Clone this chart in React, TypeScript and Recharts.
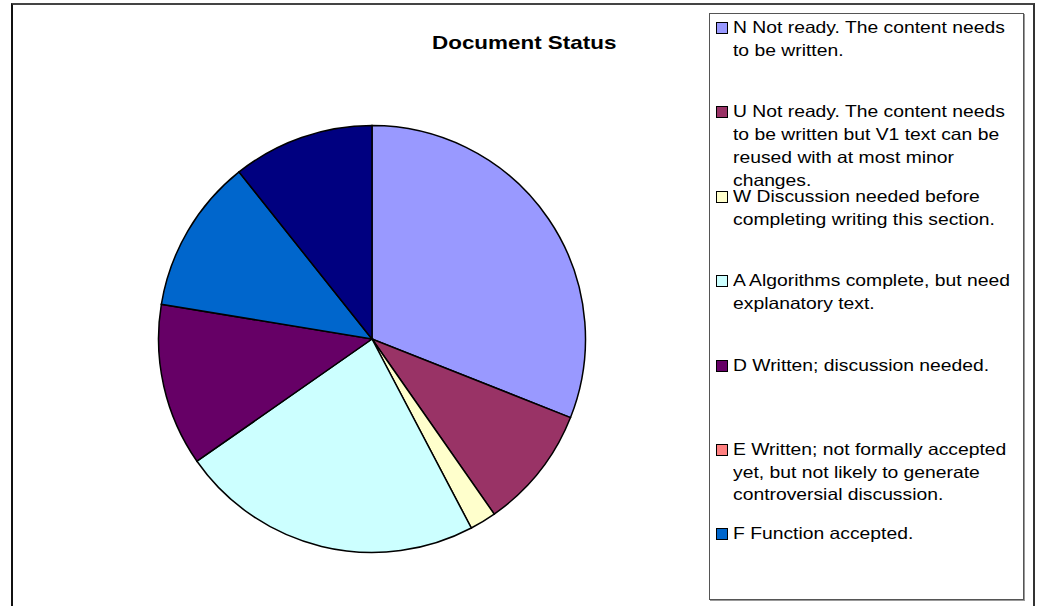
import { PieChart, Pie, Cell } from 'recharts'

const codes = ['N', 'U', 'W', 'A', 'D', 'E', 'F', 'G']
const labels = [
  'N Not ready. The content needs to be written.',
  'U Not ready. The content needs to be written but V1 text can be reused with at most minor changes.',
  'W Discussion needed before completing writing this section.',
  'A Algorithms complete, but need explanatory text.',
  'D Written; discussion needed.',
  'E Written; not formally accepted yet, but not likely to generate controversial discussion.',
  'F Function accepted.',
  '',
]
const shares = [31, 9.3, 2, 23, 12.3, 0, 11.7, 10.7]
const colors = ['#9999FF', '#993366', '#FFFFCC', '#CCFFFF', '#660066', '#FF8080', '#0066CC', '#000080']

const data = codes.map((code, i) => ({ code, label: labels[i], value: shares[i] }))

export default function App() {
  return (
    <div
      style={{
        position: 'fixed',
        left: 0,
        top: 0,
        width: 1040,
        height: 606,
        background: '#fff',
        overflow: 'hidden',
        fontFamily: '"Liberation Sans", Arial, sans-serif',
      }}
    >
      {/* chart frame, its bottom edge runs off the page */}
      <div
        style={{
          position: 'absolute',
          left: 11,
          top: 3,
          width: 1020,
          height: 640,
          borderTop: '2px solid #444',
          borderLeft: '2px solid #111',
          borderRight: '2px solid #333',
        }}
      />
      <div
        style={{
          position: 'absolute',
          left: 432,
          top: 32,
          fontWeight: 'bold',
          fontSize: 19,
          transform: 'scaleX(1.18)',
          transformOrigin: 'left center',
          color: '#000',
          whiteSpace: 'nowrap',
        }}
      >
        Document Status
      </div>
      <div style={{ position: 'absolute', left: 0, top: 0 }}>
        <PieChart width={700} height={606} margin={{ top: 0, right: 0, bottom: 0, left: 0 }}>
          <Pie
            data={data}
            dataKey="value"
            nameKey="code"
            cx={372}
            cy={339}
            outerRadius={213.5}
            startAngle={90}
            endAngle={-270}
            stroke="#000"
            strokeWidth={1.5}
            isAnimationActive={false}
          >
            {data.map((d, i) => (
              <Cell key={d.code} fill={colors[i]} />
            ))}
          </Pie>
        </PieChart>
      </div>
      <div
        style={{
          position: 'absolute',
          left: 709,
          top: 13,
          width: 313,
          height: 585,
          border: '1px solid #555',
          boxShadow: '1px 1px 0 #999',
          overflow: 'hidden',
        }}
      >
        {data
          .filter((d) => d.label)
          .map((d, i) => (
            <div
              key={d.code}
              style={{ position: 'absolute', left: 6, top: 2 + i * 84.4, width: 300 }}
            >
              <div
                style={{
                  position: 'absolute',
                  left: 0,
                  top: 6,
                  width: 10,
                  height: 10,
                  background: colors[codes.indexOf(d.code)],
                  border: '1px solid #000',
                }}
              />
              <div
                style={{
                  marginLeft: 17,
                  width: 245,
                  fontSize: 16.5,
                  lineHeight: '22.7px',
                  color: '#000',
                  transform: 'scaleX(1.17)',
                  transformOrigin: 'left top',
                }}
              >
                {d.label}
              </div>
            </div>
          ))}
      </div>
    </div>
  )
}
